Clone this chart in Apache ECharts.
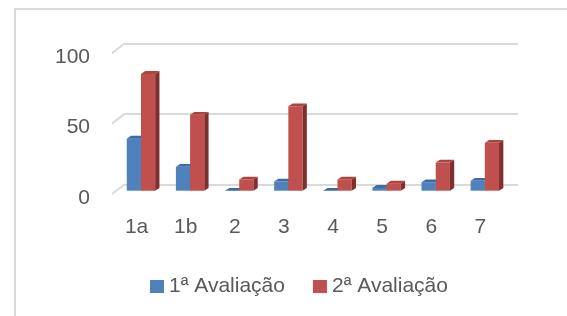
<!DOCTYPE html>
<html>
<head>
<meta charset="utf-8">
<script src="https://cdn.jsdelivr.net/npm/echarts@6/dist/echarts.min.js"></script>
<style>
html,body{margin:0;padding:0;background:#fff;}
#c{width:567px;height:316px;}
</style>
</head>
<body>
<div id="c"></div>
<script>
const categories = ['1a', '1b', '2', '3', '4', '5', '6', '7'];
const seriesNames = ['1ª Avaliação', '2ª Avaliação'];
const aval1 = [37, 17, 0, 6.5, 0, 2, 6, 7];
const aval2 = [83, 54, 8, 60, 8, 5, 20, 34];
const yTicks = [0, 50, 100];

const FONT = 'Liberation Sans';
const TXT = '#595959';
const GRIDC = '#d9d9d9';
const faces = [
  { front: '#4F81BD', top: '#3D6BA3', side: '#2F5482' },
  { front: '#C0504D', top: '#AD423F', side: '#7F2F2D' }
];
const BAR_W = 14.2, SHIFT_X = 4.4, SHIFT_Y = 3.3, DX = 4.3, DY = -2.8;

function barRender(si) {
  return function (params, api) {
    const c0 = api.coord([api.value(0), 0]);
    const c1 = api.coord([api.value(0), api.value(1)]);
    const cx = c0[0] + SHIFT_X;
    const left = si === 0 ? cx - BAR_W : cx;
    const right = si === 0 ? cx : cx + BAR_W;
    const base = c0[1] - SHIFT_Y;
    const top = c1[1] - SHIFT_Y;
    const f = faces[si];
    return {
      type: 'group',
      children: [
        { type: 'rect', shape: { x: left, y: top, width: right - left, height: base - top }, style: { fill: f.front } },
        { type: 'polygon', shape: { points: [[right, top], [right + DX, top + DY], [right + DX, base + DY], [right, base]] }, style: { fill: f.side } },
        { type: 'polygon', shape: { points: [[left, top], [right, top], [right + DX, top + DY], [left + DX, top + DY]] }, style: { fill: f.top } }
      ]
    };
  };
}

const chart = echarts.init(document.getElementById('c'), null, { renderer: 'canvas' });
chart.setOption({
  animation: false,
  backgroundColor: '#fff',
  textStyle: { fontFamily: FONT },
  graphic: [{
    type: 'rect', shape: { x: 15, y: 9, width: 700, height: 500 },
    style: { fill: 'none', stroke: GRIDC, lineWidth: 2 }, z: -10
  }],
  legend: {
    data: seriesNames.map((n, i) => ({ name: n, icon: 'rect', itemStyle: { color: faces[i].front } })),
    left: 145, top: 271, itemWidth: 14, itemHeight: 13, itemGap: 28,
    textStyle: { fontFamily: FONT, fontSize: 21, color: TXT }
  },
  grid: [
    { left: 125, top: 43.3, width: 393, height: 141 },
    { left: 112, top: 53.3, width: 393, height: 140.7 }
  ],
  xAxis: [
    { gridIndex: 0, type: 'category', data: categories, show: false },
    { gridIndex: 1, type: 'category', data: categories,
      axisLine: { show: false }, axisTick: { show: false },
      axisLabel: { margin: 23, fontFamily: FONT, fontSize: 21, color: TXT } }
  ],
  yAxis: [
    { gridIndex: 0, type: 'value', min: 0, max: 100, interval: 50,
      axisLine: { show: false }, axisTick: { show: false }, axisLabel: { show: false },
      splitLine: { lineStyle: { color: GRIDC, width: 2 } } },
    { gridIndex: 1, type: 'value', min: 0, max: 100, interval: 50,
      axisLine: { show: false }, axisTick: { show: false }, splitLine: { show: false },
      axisLabel: { margin: 22, color: TXT,
        formatter: v => '{a|' + v + '}',
        rich: { a: { fontFamily: FONT, fontSize: 21, color: TXT, padding: [8, 0, 0, 0] } } } }
  ],
  series: [
    {
      type: 'custom', name: 'diag', xAxisIndex: 1, yAxisIndex: 1, silent: true, z: 1,
      data: yTicks.map(v => [0, v]),
      renderItem: function (params, api) {
        const cs = params.coordSys;
        const y = api.coord([0, api.value(1)])[1];
        return { type: 'line', shape: { x1: cs.x, y1: y, x2: cs.x + 13, y2: y - 10 },
          style: { stroke: GRIDC, lineWidth: 2 } };
      }
    },
    {
      type: 'custom', name: seriesNames[0], xAxisIndex: 1, yAxisIndex: 1, z: 2,
      itemStyle: { color: faces[0].front },
      data: aval1.map((v, i) => [i, v]),
      renderItem: barRender(0)
    },
    {
      type: 'custom', name: seriesNames[1], xAxisIndex: 1, yAxisIndex: 1, z: 3,
      itemStyle: { color: faces[1].front },
      data: aval2.map((v, i) => [i, v]),
      renderItem: barRender(1)
    }
  ]
});
</script>
</body>
</html>
